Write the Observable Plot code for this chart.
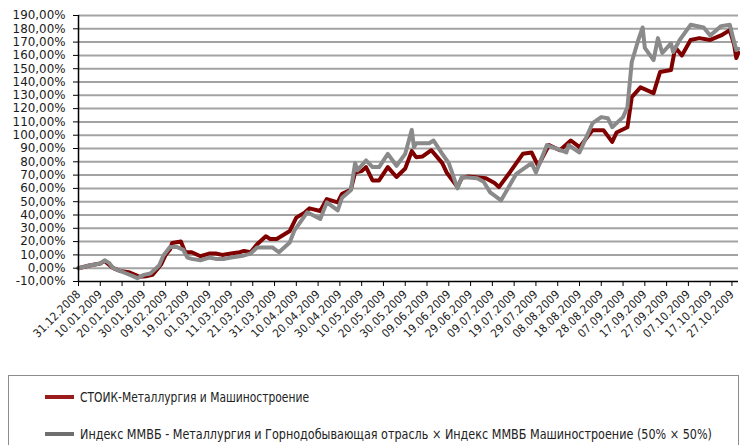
<!DOCTYPE html>
<html><head><meta charset="utf-8">
<script src="https://cdn.jsdelivr.net/npm/d3@7"></script>
<script src="https://cdn.jsdelivr.net/npm/@observablehq/plot@0.6"></script>
<style>
body{margin:0;background:#fff;}
#chart{position:relative;width:740px;height:445px;overflow:hidden;background:#fff;}
#chart svg{position:absolute;left:0;top:0;}
#chart svg.legend{top:370px;}
</style></head>
<body><div id="chart"></div>
<script>
// Series names
const seriesNames = ["СТОИК-Металлургия и Машиностроение",
  "Индекс ММВБ - Металлургия и Горнодобывающая отрасль × Индекс ММВБ Машиностроение (50% × 50%)"];

// Series 1: СТОИК (values in %)
const redDates = ["2008-12-31","2009-01-05","2009-01-10","2009-01-12","2009-01-13","2009-01-16","2009-01-19","2009-01-23","2009-01-26","2009-01-28","2009-01-31","2009-02-03","2009-02-04","2009-02-07","2009-02-09","2009-02-11","2009-02-12","2009-02-16","2009-02-18","2009-02-21","2009-02-25","2009-03-01","2009-03-04","2009-03-07","2009-03-11","2009-03-15","2009-03-17","2009-03-20","2009-03-23","2009-03-27","2009-03-29","2009-04-01","2009-04-04","2009-04-07","2009-04-10","2009-04-14","2009-04-16","2009-04-21","2009-04-24","2009-04-29","2009-05-01","2009-05-05","2009-05-07","2009-05-10","2009-05-12","2009-05-15","2009-05-18","2009-05-22","2009-05-26","2009-05-30","2009-06-02","2009-06-04","2009-06-07","2009-06-11","2009-06-16","2009-06-18","2009-06-23","2009-06-25","2009-06-28","2009-07-06","2009-07-10","2009-07-12","2009-07-17","2009-07-23","2009-07-27","2009-07-30","2009-08-04","2009-08-09","2009-08-14","2009-08-18","2009-08-24","2009-08-29","2009-09-02","2009-09-04","2009-09-09","2009-09-11","2009-09-15","2009-09-21","2009-09-24","2009-09-29","2009-10-01","2009-10-04","2009-10-08","2009-10-12","2009-10-17","2009-10-22","2009-10-26","2009-10-28","2009-10-29","2009-10-30"];
const redValues = [0,2,3.5,5.5,4,0,-2,-3,-5,-6.5,-6,-5,-3,3,10,14,19,20,12,12,9,11,11,10,11,12,13,12,18,24,22,22,25,28,38,42,45,43,52,49.5,56,59,72,73,76,66,66,76,68.6,75,88,83.5,84,88.7,79,72,61,68,69,67.6,64,61,72,86,87,77,92.5,88.7,96,91,103.8,103.8,95,102,106,128.6,136,131.6,147.5,149,166,160,171.6,173,171.6,175,179,168,158,162];

// Series 2: Index ММВБ (values in %)
const grayDates = ["2008-12-31","2009-01-05","2009-01-10","2009-01-12","2009-01-14","2009-01-16","2009-01-19","2009-01-22","2009-01-25","2009-01-27","2009-01-30","2009-02-02","2009-02-04","2009-02-06","2009-02-08","2009-02-11","2009-02-14","2009-02-17","2009-02-19","2009-02-21","2009-02-25","2009-03-01","2009-03-04","2009-03-08","2009-03-11","2009-03-15","2009-03-17","2009-03-20","2009-03-23","2009-03-30","2009-04-02","2009-04-07","2009-04-09","2009-04-15","2009-04-21","2009-04-24","2009-04-29","2009-05-01","2009-05-05","2009-05-07","2009-05-08","2009-05-12","2009-05-15","2009-05-18","2009-05-22","2009-05-26","2009-05-30","2009-06-02","2009-06-03","2009-06-04","2009-06-10","2009-06-12","2009-06-16","2009-06-19","2009-06-23","2009-06-25","2009-07-02","2009-07-05","2009-07-08","2009-07-13","2009-07-20","2009-07-27","2009-07-29","2009-08-03","2009-08-12","2009-08-13","2009-08-18","2009-08-24","2009-08-28","2009-08-31","2009-09-02","2009-09-07","2009-09-09","2009-09-11","2009-09-14","2009-09-16","2009-09-17","2009-09-21","2009-09-23","2009-09-25","2009-09-29","2009-09-30","2009-10-03","2009-10-08","2009-10-14","2009-10-17","2009-10-22","2009-10-26","2009-10-28","2009-10-29","2009-10-30"];
const grayValues = [0,2,3.5,6,4,0,-2,-4,-6,-7.5,-5,-4,-1,2,9.6,16,16,14,8,7,6,8,7,7,8,9,9.6,11,15.6,15.6,12,19.4,28,42,37,49.5,43.5,53,58.6,79,73.6,81,76,76,86,77,86,104,91,94,94,96,86,79,60,68.6,67.6,65,57,51,71,79,72,92.5,87,92.5,87,109,113.6,112.8,106,113.6,121,155,171.6,181,165.6,156.5,173,161.8,169,162.5,171.6,183,181,175,182,183,170,164,165];

// Axis tick labels
const xTickLabels = ["31.12.2008","10.01.2009","20.01.2009","30.01.2009","09.02.2009","19.02.2009","01.03.2009","11.03.2009","21.03.2009","31.03.2009","10.04.2009","20.04.2009","30.04.2009","10.05.2009","20.05.2009","30.05.2009","09.06.2009","19.06.2009","29.06.2009","09.07.2009","19.07.2009","29.07.2009","08.08.2009","18.08.2009","28.08.2009","07.09.2009","17.09.2009","27.09.2009","07.10.2009","17.10.2009","27.10.2009"];
const yTicks = [-10,0,10,20,30,40,50,60,70,80,90,100,110,120,130,140,150,160,170,180,190];

const pIso = d3.utcParse("%Y-%m-%d");
const pTick = d3.utcParse("%d.%m.%Y");
const red = redDates.map((d,i)=>({date:pIso(d), value:redValues[i]}));
const gray = grayDates.map((d,i)=>({date:pIso(d), value:grayValues[i]}));
const tickDates = xTickLabels.map(pTick);
const labelOf = new Map(xTickLabels.map((s,i)=>[tickDates[i].getTime(), s]));
const xStart = pIso("2008-12-31"), xEnd = pIso("2009-10-30");

const plot = Plot.plot({
  width:740, height:370, marginTop:15, marginBottom:89, marginLeft:78, marginRight:2,
  style:{background:"transparent", overflow:"visible"},
  x:{type:"utc", domain:[xStart,xEnd]},
  y:{domain:[-10,190]},
  marks:[
    Plot.ruleY(yTicks.filter(v=>v>-10), {stroke:"#a3a3a3", strokeWidth:2}),
    Plot.lineY(red, {x:"date", y:"value", stroke:"#800000", strokeWidth:4, strokeLinejoin:"round"}),
    Plot.lineY(gray, {x:"date", y:"value", stroke:"#8a8a8a", strokeWidth:4, strokeLinejoin:"round"}),
    Plot.ruleX([xStart], {stroke:"#000", strokeWidth:1.5}),
    Plot.ruleY([-10], {stroke:"#000", strokeWidth:1.5}),
    Plot.axisY({ticks:yTicks, tickFormat:d=>d.toFixed(2).replace(".",",")+"%", tickSize:5, tickPadding:8, label:null, stroke:"#000"}),
    Plot.axisX({ticks:tickDates, tickFormat:d=>labelOf.get(d.getTime()), tickRotate:-45, tickSize:5, tickPadding:6, label:null, stroke:"#000"})
  ]
});
// Text styling of the tick labels
d3.select(plot).selectAll("text").each(function(){
  const t = this.textContent, s = d3.select(this);
  if (/%$/.test(t)) {
    const n = t.length - (t[0] === "-" ? 0.4 : 0);
    s.attr("font-family","DejaVu Sans").attr("font-size",12)
     .style("font-family","'DejaVu Sans'").style("font-size","12px").style("fill","#1a1a1a")
     .attr("textLength", (7.55*n).toFixed(1)).attr("lengthAdjust","spacingAndGlyphs");
  } else if (/^\d\d\.\d\d\.\d{4}$/.test(t)) {
    s.attr("font-family","DejaVu Sans Condensed").attr("font-size",11.5)
     .style("font-family","'DejaVu Sans Condensed','DejaVu Sans',sans-serif").style("font-size","11.5px")
     .style("fill","#1a1a1a").attr("textLength",61).attr("lengthAdjust","spacing");
  }
});
const chart = document.getElementById("chart");
chart.appendChild(plot);

// Legend (below the plot SVG)
const colors = ["#9a1c1c","#6f6f6f"];
const textWidths = [229, 632];
const rowY = [27, 64];
const lg = d3.select(chart).append("svg").attr("class","legend")
  .attr("width",740).attr("height",75);
lg.append("rect").attr("x",8.5).attr("y",5.5).attr("width",730).attr("height",100)
  .attr("fill","none").attr("stroke","#8c8c8c");
seriesNames.forEach((name,i)=>{
  lg.append("line").attr("x1",45).attr("x2",74).attr("y1",rowY[i]).attr("y2",rowY[i])
    .attr("stroke",colors[i]).attr("stroke-width",4);
  lg.append("text").attr("x",80).attr("y",rowY[i]+5)
    .attr("font-family","DejaVu Sans Condensed, DejaVu Sans, sans-serif").attr("font-size",13.5)
    .attr("fill","#222")
    .attr("textLength",textWidths[i]).attr("lengthAdjust","spacingAndGlyphs")
    .text(name);
});
</script>
</body></html>
